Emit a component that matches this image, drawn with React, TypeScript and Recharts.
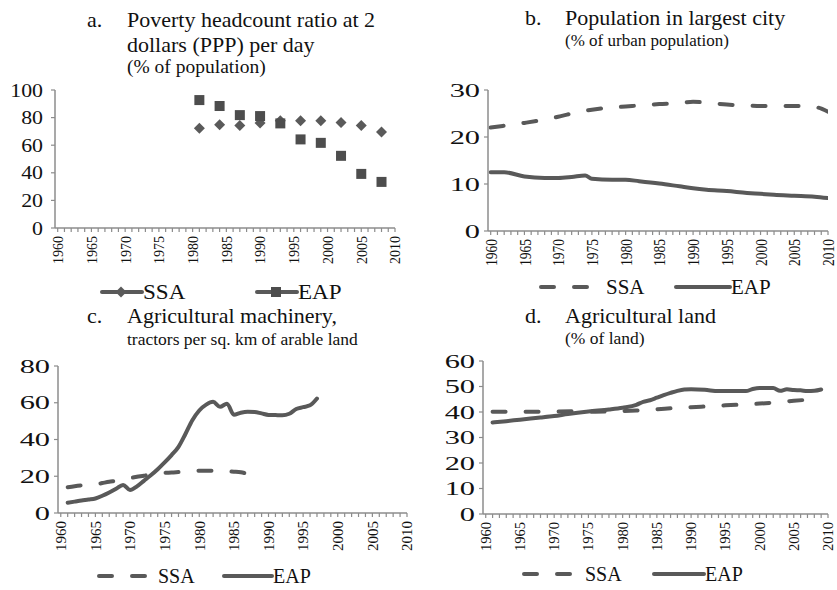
import React from "react";
import { LineChart, Line, XAxis, YAxis, Legend } from "recharts";

const FONT = '"Liberation Serif", "Times New Roman", serif';
const LINE = "#595959";
const AXIS = "#8c8c8c";
const TEXT = "#111";

const seriesNames = ["SSA", "EAP"];

// every year gets a small tick, labels only every 5 years
const yearTicks = [
  1960, 1961, 1962, 1963, 1964, 1965, 1966, 1967, 1968, 1969,
  1970, 1971, 1972, 1973, 1974, 1975, 1976, 1977, 1978, 1979,
  1980, 1981, 1982, 1983, 1984, 1985, 1986, 1987, 1988, 1989,
  1990, 1991, 1992, 1993, 1994, 1995, 1996, 1997, 1998, 1999,
  2000, 2001, 2002, 2003, 2004, 2005, 2006, 2007, 2008, 2009, 2010,
];
const yearLabels = [1960, 1965, 1970, 1975, 1980, 1985, 1990, 1995, 2000, 2005, 2010];

// a. poverty headcount ratio
const povertyYears = [1981, 1984, 1987, 1990, 1993, 1996, 1999, 2002, 2005, 2008];
const povertySSA = [72.2, 74.8, 74.3, 76.0, 77.7, 77.7, 77.7, 76.5, 74.3, 69.5];
const povertyEAP = [92.7, 88.4, 81.8, 81.1, 75.8, 64.2, 61.7, 52.3, 39.2, 33.4];
const povertyTicks = [0, 20, 40, 60, 80, 100];

// b. population in largest city
const cityYears = [1960, 1962, 1965, 1968, 1970, 1972, 1974, 1975, 1978, 1980, 1982, 1985, 1988, 1990, 1992, 1995, 1998, 2000, 2002, 2005, 2008, 2010];
const citySSA = [22.0, 22.4, 23.0, 23.7, 24.3, 25.0, 25.6, 25.8, 26.3, 26.5, 26.7, 27.0, 27.2, 27.5, 27.3, 26.9, 26.7, 26.6, 26.6, 26.6, 26.4, 25.4];
const cityEAP = [12.5, 12.5, 11.6, 11.3, 11.3, 11.5, 11.8, 11.1, 10.9, 10.9, 10.6, 10.1, 9.5, 9.1, 8.8, 8.5, 8.1, 7.9, 7.7, 7.5, 7.3, 7.0];
const cityTicks = [0, 10, 20, 30];

// c. tractors per sq. km of arable land
const tractorEAPYears = [
  1961, 1962, 1963, 1964, 1965, 1966, 1967, 1968, 1969, 1970,
  1971, 1972, 1973, 1974, 1975, 1976, 1977, 1978, 1979, 1980,
  1981, 1982, 1983, 1984, 1985, 1986, 1987, 1988, 1989, 1990,
  1991, 1992, 1993, 1994, 1995, 1996, 1997,
];
const tractorEAP = [
  5.6, 6.2, 6.8, 7.3, 7.9, 9.4, 11.2, 13.2, 15.3, 12.5,
  14.5, 17.5, 20.5, 23.8, 27.5, 31.5, 36.0, 43.0, 50.5, 55.8,
  59.0, 60.5, 57.8, 59.5, 53.5, 54.6, 55.1, 55.0, 54.2, 53.4,
  53.3, 53.2, 54.0, 56.6, 57.6, 58.6, 62.3,
];
const tractorSSAYears = [
  1961, 1962, 1963, 1964, 1965, 1966, 1967, 1968, 1969, 1970,
  1971, 1972, 1973, 1974, 1975, 1976, 1977, 1978, 1979, 1980,
  1981, 1982, 1983, 1984, 1985, 1986, 1987,
];
const tractorSSA = [
  14.0, 14.6, 15.0, 15.2, 15.6, 16.3, 17.0, 17.5, 18.2, 19.0,
  19.7, 20.3, 21.0, 21.4, 21.8, 22.1, 22.3, 22.5, 22.8, 23.0,
  23.0, 23.0, 22.9, 22.7, 22.5, 22.2, 21.2,
];
const tractorTicks = [0, 20, 40, 60, 80];

// d. agricultural land
const landEAPYears = [1961, 1963, 1965, 1968, 1970, 1972, 1975, 1978, 1980, 1982, 1983, 1984, 1985, 1986, 1987, 1988, 1989, 1990, 1992, 1994, 1996, 1998, 1999, 2000, 2002, 2003, 2004, 2005, 2006, 2007, 2008, 2009];
const landEAP = [35.9, 36.4, 37.0, 37.8, 38.4, 39.2, 40.2, 41.0, 41.7, 42.8, 44.0, 44.6, 45.6, 46.6, 47.5, 48.3, 48.8, 48.9, 48.7, 48.2, 48.2, 48.2, 49.0, 49.4, 49.4, 48.3, 48.9, 48.6, 48.5, 48.2, 48.3, 48.8];
const landSSAYears = [1961, 1965, 1970, 1973, 1976, 1980, 1982, 1985, 1988, 1990, 1993, 1995, 1998, 2000, 2003, 2005, 2007];
const landSSA = [40.1, 40.1, 40.2, 40.3, 40.1, 40.4, 40.6, 41.1, 41.6, 41.9, 42.3, 42.6, 43.0, 43.3, 43.9, 44.4, 44.8];
const landTicks = [0, 10, 20, 30, 40, 50, 60];

const toPoints = (years: number[], values: number[]) =>
  years.map((year, i) => ({ year, v: values[i] }));

type Series = {
  name: string;
  data: { year: number; v: number }[];
  dashed?: boolean;
  marker?: "diamond" | "square";
};

const DASH = "13 20";

function Diamond(props: any) {
  const { cx, cy } = props;
  if (cx == null || cy == null) return <g />;
  const r = 5.5;
  return <path d={`M${cx},${cy - r}L${cx + r},${cy}L${cx},${cy + r}L${cx - r},${cy}Z`} fill="#5a5a5a" />;
}

function Square(props: any) {
  const { cx, cy } = props;
  if (cx == null || cy == null) return <g />;
  return <rect x={cx - 5} y={cy - 5} width={10} height={10} fill="#4d4d4d" />;
}

function YTick(props: any) {
  const { x, y, payload, fontSize, sx } = props;
  return (
    <text
      transform={`translate(${x},${y}) scale(${sx},1)`}
      textAnchor="end"
      dy="0.35em"
      fontFamily={FONT}
      fontSize={fontSize}
      fill={TEXT}
    >
      {payload.value}
    </text>
  );
}

function XTick(props: any) {
  const { x, y, payload, fontSize, sx } = props;
  if (!yearLabels.includes(payload.value)) return <g />;
  return (
    <text
      transform={`translate(${x},${y}) scale(${sx},1) rotate(-90)`}
      textAnchor="end"
      dy="0.35em"
      fontFamily={FONT}
      fontSize={fontSize}
      fill={TEXT}
    >
      {payload.value}
    </text>
  );
}

function LegendBox(props: any) {
  const { payload, series, stride, iconW, fontSize, sx } = props;
  const names: string[] = (payload || []).map((e: any) => e.value);
  const shown: Series[] = series.filter((s: Series) => names.includes(s.name));
  return (
    <svg width={300} height={30} style={{ overflow: "visible" }}>
      {shown.map((s: Series, i: number) => {
        const x0 = i * stride;
        const textX = s.dashed ? iconW + 11 : iconW + 1;
        return (
          <g key={s.name} transform={`translate(${x0},15)`}>
            {s.dashed ? (
              <line x1={2} x2={iconW - 2} y1={0} y2={0} stroke={LINE} strokeWidth={4} strokeDasharray={DASH} strokeLinecap="round" />
            ) : (
              <line x1={2} x2={iconW} y1={0} y2={0} stroke={LINE} strokeWidth={4} strokeLinecap="round" />
            )}
            {s.marker === "diamond" && <Diamond cx={iconW / 2} cy={0} />}
            {s.marker === "square" && <Square cx={iconW / 2} cy={0} />}
            <text
              transform={`translate(${textX},0) scale(${sx},1)`}
              dy="0.35em"
              fontFamily={FONT}
              fontSize={fontSize}
              fill={TEXT}
            >
              {s.name}
            </text>
          </g>
        );
      })}
    </svg>
  );
}

type PanelProps = {
  left: number;
  top: number;
  width: number;
  height: number;
  margin: { top: number; right: number; bottom: number; left: number };
  yAxisWidth: number;
  yTicks: number[];
  yTickMargin: number;
  yFont: number;
  ySx: number;
  xFont: number;
  xSx: number;
  series: Series[];
  legend: { left: number; top: number; stride: number; iconW: number; fontSize: number; sx: number };
};

function Panel(p: PanelProps) {
  const yMax = p.yTicks[p.yTicks.length - 1];
  return (
    <div style={{ position: "absolute", left: p.left, top: p.top, width: p.width, height: p.height }}>
      <LineChart width={p.width} height={p.height} margin={p.margin}>
        <XAxis
          dataKey="year"
          type="number"
          domain={[1959.6, 2010]}
          ticks={yearTicks}
          interval={0}
          allowDataOverflow
          height={50}
          tickSize={4}
          tickMargin={4}
          axisLine={{ stroke: AXIS, strokeWidth: 1.5 }}
          tickLine={{ stroke: AXIS, strokeWidth: 1.2 }}
          tick={<XTick fontSize={p.xFont} sx={p.xSx} />}
        />
        <YAxis
          type="number"
          domain={[0, yMax]}
          ticks={p.yTicks}
          interval={0}
          width={p.yAxisWidth}
          tickSize={4}
          tickMargin={p.yTickMargin}
          axisLine={{ stroke: AXIS, strokeWidth: 1.5 }}
          tickLine={{ stroke: AXIS, strokeWidth: 1.2 }}
          tick={<YTick fontSize={p.yFont} sx={p.ySx} />}
        />
        {p.series.map((s) =>
          s.marker ? (
            <Line
              key={s.name}
              name={s.name}
              data={s.data}
              dataKey="v"
              stroke="none"
              isAnimationActive={false}
              dot={s.marker === "diamond" ? <Diamond /> : <Square />}
              activeDot={false}
            />
          ) : (
            <Line
              key={s.name}
              name={s.name}
              data={s.data}
              dataKey="v"
              type="monotone"
              stroke={LINE}
              strokeWidth={4}
              strokeDasharray={s.dashed ? DASH : undefined}
              strokeLinecap="round"
              strokeLinejoin="round"
              dot={false}
              activeDot={false}
              isAnimationActive={false}
            />
          )
        )}
        <Legend
          layout="horizontal"
          verticalAlign="middle"
          align="center"
          wrapperStyle={{ left: p.legend.left, top: p.legend.top, width: 300, height: 30 }}
          content={(lp: any) => (
            <LegendBox
              payload={lp.payload}
              series={p.series}
              stride={p.legend.stride}
              iconW={p.legend.iconW}
              fontSize={p.legend.fontSize}
              sx={p.legend.sx}
            />
          )}
        />
      </LineChart>
    </div>
  );
}

function Titles() {
  const big = 22;
  const t = (x: number, y: number, s: string, size: number) => (
    <text x={x} y={y} fontFamily={FONT} fontSize={size} fill={TEXT}>
      {s}
    </text>
  );
  return (
    <svg width={837} height={590} style={{ position: "absolute", left: 0, top: 0, pointerEvents: "none" }}>
      {t(87, 27, "a.", big)}
      {t(127, 27, "Poverty headcount ratio at 2", big)}
      {t(127, 52, "dollars (PPP) per day", big)}
      {t(127, 73, "(% of population)", 19.5)}
      {t(525, 25, "b.", big)}
      {t(565, 25, "Population in largest city", big)}
      {t(565, 46, "(% of urban population)", 17)}
      {t(87, 323, "c.", big)}
      {t(127, 323, "Agricultural machinery,", big)}
      {t(127, 345, "tractors per sq. km of arable land", 17.5)}
      {t(525, 323, "d.", big)}
      {t(565, 323, "Agricultural land", big)}
      {t(565, 344, "(% of land)", 17.5)}
    </svg>
  );
}

export default function App() {
  const povertySeries: Series[] = [
    { name: seriesNames[0], data: toPoints(povertyYears, povertySSA), marker: "diamond" },
    { name: seriesNames[1], data: toPoints(povertyYears, povertyEAP), marker: "square" },
  ];
  const citySeries: Series[] = [
    { name: seriesNames[0], data: toPoints(cityYears, citySSA), dashed: true },
    { name: seriesNames[1], data: toPoints(cityYears, cityEAP) },
  ];
  const tractorSeries: Series[] = [
    { name: seriesNames[0], data: toPoints(tractorSSAYears, tractorSSA), dashed: true },
    { name: seriesNames[1], data: toPoints(tractorEAPYears, tractorEAP) },
  ];
  const landSeries: Series[] = [
    { name: seriesNames[0], data: toPoints(landSSAYears, landSSA), dashed: true },
    { name: seriesNames[1], data: toPoints(landEAPYears, landEAP) },
  ];

  return (
    <div style={{ position: "absolute", left: 0, top: 0, width: 837, height: 590, background: "#fff", overflow: "hidden" }}>
      <Panel
        left={0}
        top={0}
        width={418}
        height={300}
        margin={{ top: 90, right: 23, bottom: 22, left: 0 }}
        yAxisWidth={55}
        yTicks={povertyTicks}
        yTickMargin={8}
        yFont={19}
        ySx={1.15}
        xFont={14}
        xSx={1.1}
        series={povertySeries}
        legend={{ left: 100, top: 277, stride: 155, iconW: 42, fontSize: 21, sx: 1.1 }}
      />
      <Panel
        left={418}
        top={0}
        width={419}
        height={300}
        margin={{ top: 90, right: 9, bottom: 19, left: 0 }}
        yAxisWidth={70}
        yTicks={cityTicks}
        yTickMargin={4}
        yFont={19}
        ySx={1.6}
        xFont={13.5}
        xSx={1.3}
        series={citySeries}
        legend={{ left: 121, top: 272, stride: 135, iconW: 56, fontSize: 21, sx: 1 }}
      />
      <Panel
        left={0}
        top={295}
        width={418}
        height={295}
        margin={{ top: 71, right: 11, bottom: 27, left: 0 }}
        yAxisWidth={58}
        yTicks={tractorTicks}
        yTickMargin={4}
        yFont={19}
        ySx={1.6}
        xFont={15}
        xSx={1}
        series={tractorSeries}
        legend={{ left: 97, top: 266, stride: 125, iconW: 50, fontSize: 20, sx: 1 }}
      />
      <Panel
        left={418}
        top={295}
        width={419}
        height={295}
        margin={{ top: 66, right: 9, bottom: 26, left: 0 }}
        yAxisWidth={65}
        yTicks={landTicks}
        yTickMargin={4}
        yFont={19}
        ySx={1.6}
        xFont={14.5}
        xSx={1}
        series={landSeries}
        legend={{ left: 104, top: 264, stride: 130, iconW: 52, fontSize: 20, sx: 1 }}
      />
      <Titles />
    </div>
  );
}
